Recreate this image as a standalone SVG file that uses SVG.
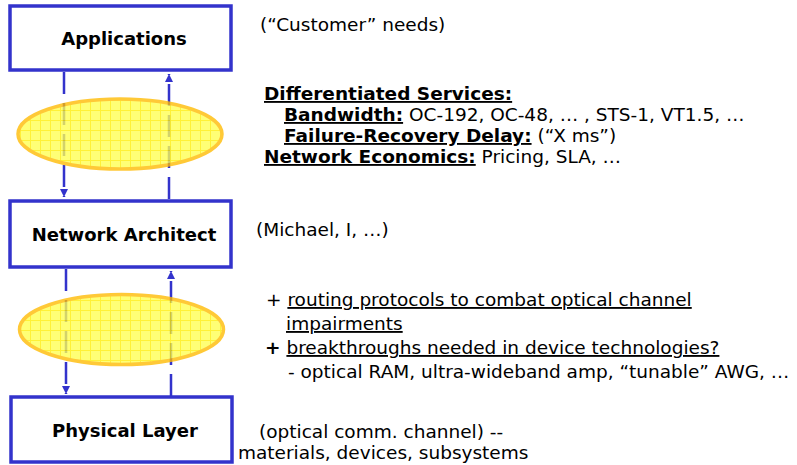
<svg xmlns="http://www.w3.org/2000/svg" width="797" height="465" viewBox="0 0 797 465">
<style>
.box{fill:#fff;stroke:#3333cc;stroke-width:3.5}
.lbl{font-family:"DejaVu Sans",Verdana,sans-serif;font-weight:bold;font-size:18px;fill:#000;text-anchor:middle}
.t{font-family:"DejaVu Sans",Verdana,sans-serif;font-size:18.5px;fill:#000}
.b{font-weight:bold}
.u{text-decoration:underline}
.con{stroke:#3333cc;stroke-width:2.5;stroke-dasharray:22 9;fill:none}
.ell{fill:url(#grid);stroke:#ffbb00;stroke-width:3.5;opacity:0.78}
</style>
<defs>
<pattern id="grid" width="10" height="10" patternUnits="userSpaceOnUse">
<rect width="10" height="10" fill="#ffff50"/>
<path d="M0 0.5H10M0.5 0V10" stroke="#ffee00" stroke-width="1"/>
</pattern>
<marker id="ah" markerWidth="10" markerHeight="10" refX="8" refY="4" orient="auto" markerUnits="userSpaceOnUse">
<path d="M0 0L8 4L0 8Z" fill="#3333cc"/>
</marker>
</defs>
<g id="connectors">
<line class="con" x1="64" y1="72" x2="64" y2="197" marker-end="url(#ah)"/>
<line class="con" x1="169" y1="199" x2="169" y2="74" marker-end="url(#ah)"/>
<line class="con" x1="66" y1="269" x2="66" y2="394" marker-end="url(#ah)"/>
<line class="con" x1="171" y1="396" x2="171" y2="271" marker-end="url(#ah)"/>
</g>
<g id="ellipse1"><ellipse class="ell" cx="120" cy="134" rx="102" ry="35"/></g>
<g id="ellipse2"><ellipse class="ell" cx="121.5" cy="329.5" rx="102" ry="35"/></g>
<g id="applications">
<rect class="box" x="10" y="6" width="221" height="64"/>
<text class="lbl" x="124" y="45">Applications</text>
</g>
<g id="network-architect">
<rect class="box" x="10" y="201" width="221" height="66"/>
<text class="lbl" x="124" y="241">Network Architect</text>
</g>
<g id="physical-layer">
<rect class="box" x="11" y="397" width="221" height="65"/>
<text class="lbl" x="125" y="437">Physical Layer</text>
</g>
<g id="notes">
<text class="t" x="260" y="31">(“Customer” needs)</text>
<text class="t" x="264" y="100"><tspan class="b u">Differentiated Services:</tspan></text>
<text class="t" x="284" y="121"><tspan class="b u">Bandwidth:</tspan> OC-192, OC-48, … , STS-1, VT1.5, …</text>
<text class="t" x="284" y="142"><tspan class="b u">Failure-Recovery Delay:</tspan> (“X ms”)</text>
<text class="t" x="264" y="163"><tspan class="b u">Network Economics:</tspan> Pricing, SLA, …</text>
<text class="t" x="256" y="236">(Michael, I, …)</text>
<text class="t" x="266" y="306">+ <tspan class="u">routing protocols to combat optical channel</tspan></text>
<text class="t" x="286" y="330"><tspan class="u">impairments</tspan></text>
<text class="t" x="265" y="354"><tspan class="b">+</tspan> <tspan class="u">breakthroughs needed in device technologies?</tspan></text>
<text class="t" x="288" y="378">- optical RAM, ultra-wideband amp, “tunable” AWG, …</text>
<text class="t" x="259" y="438">(optical comm. channel) --</text>
<text class="t" x="238" y="459">materials, devices, subsystems</text>
</g>
</svg>
